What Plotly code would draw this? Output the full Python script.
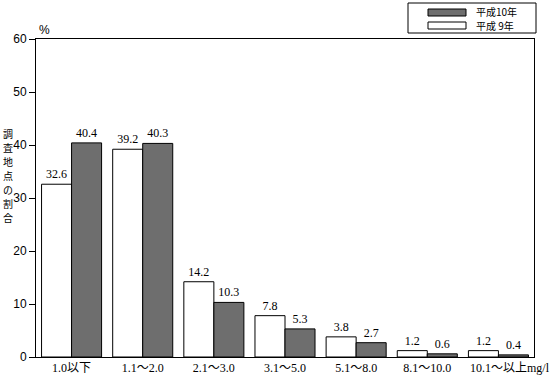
import plotly.graph_objects as go

categories = ["1.0以下", "1.1～2.0", "2.1～3.0", "3.1～5.0", "5.1～8.0", "8.1～10.0", "10.1～以上"]
h9_values = [32.6, 39.2, 14.2, 7.8, 3.8, 1.2, 1.2]
h10_values = [40.4, 40.3, 10.3, 5.3, 2.7, 0.6, 0.4]
y_ticks = [0, 10, 20, 30, 40, 50, 60]
y_title = "調査地点の割合"
legend_names = ["平成10年", "平成 9年"]

GRAY = "#6e6e6e"
SERIF = "Liberation Serif, Noto Sans CJK JP"
CJK = "Noto Sans CJK JP"

fig = go.Figure()
fig.add_bar(x=categories, y=h9_values, name=legend_names[1],
            marker=dict(color="white", line=dict(color="black", width=1)),
            text=[f"{v:.1f}" for v in h9_values], textposition="outside",
            textfont=dict(family=SERIF, size=12, color="black"), cliponaxis=False)
fig.add_bar(x=categories, y=h10_values, name=legend_names[0],
            marker=dict(color=GRAY, line=dict(color="black", width=1)),
            text=[f"{v:.1f}" for v in h10_values], textposition="outside",
            textfont=dict(family=SERIF, size=12, color="black"), cliponaxis=False)

fig.update_layout(
    width=558, height=378,
    margin=dict(l=36, r=24, t=39, b=21, autoexpand=False),
    paper_bgcolor="white", plot_bgcolor="white",
    barmode="group", bargap=0.156, bargroupgap=0,
    showlegend=False,
    font=dict(family=CJK, size=12, color="black"),
)
fig.update_xaxes(showline=True, linecolor="black", linewidth=1, mirror=True,
                 ticks="", showgrid=False, automargin=False, ticklabelstandoff=0,
                 tickfont=dict(family=SERIF, size=12, color="black"))
fig.update_yaxes(range=[0, 60], tickvals=y_ticks, showline=True, linecolor="black",
                 linewidth=1, mirror=True, ticks="outside", ticklen=6,
                 tickcolor="black", showgrid=False, zeroline=False, automargin=False,
                 tickfont=dict(family="Liberation Sans", size=12, color="black"))

def px(x):
    return (x - 36) / 498

def py_(y):
    return (357 - y) / 318

# y axis title: vertical stacked characters
for i, ch in enumerate(y_title):
    fig.add_annotation(text=ch, xref="paper", yref="paper",
                       x=px(8), y=py_(133 + i * 14), showarrow=False,
                       xanchor="center", yanchor="middle",
                       font=dict(family=CJK, size=10))
fig.add_annotation(text="%", xref="paper", yref="paper", x=px(44), y=py_(30),
                   showarrow=False, xanchor="center", yanchor="middle",
                   font=dict(family="Liberation Sans", size=12))
fig.add_annotation(text="mg/l", xref="paper", yref="paper", x=px(525), y=py_(368),
                   showarrow=False, xanchor="left", yanchor="middle",
                   font=dict(family=SERIF, size=12))

# legend drawn manually
fig.add_shape(type="rect", xref="paper", yref="paper", x0=px(408), x1=px(536),
              y0=py_(33), y1=py_(3), line=dict(color="black", width=1), fillcolor="white")
fig.add_shape(type="rect", xref="paper", yref="paper", x0=px(428), x1=px(466),
              y0=py_(16), y1=py_(9), line=dict(color="black", width=1), fillcolor=GRAY)
fig.add_shape(type="rect", xref="paper", yref="paper", x0=px(428), x1=px(466),
              y0=py_(29), y1=py_(22), line=dict(color="black", width=1), fillcolor="white")
for name, yy in zip(legend_names, [11.5, 26]):
    fig.add_annotation(text=name, xref="paper", yref="paper", x=px(474), y=py_(yy),
                       showarrow=False, xanchor="left", yanchor="middle",
                       font=dict(family=CJK, size=10))

fig.write_html("out.html", config={"displayModeBar": False},
               post_script="document.body.style.margin='0';")
